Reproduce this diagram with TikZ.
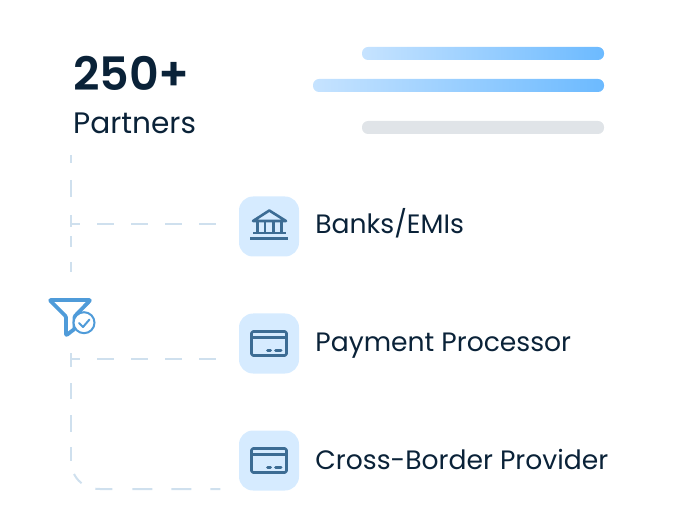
\documentclass[tikz,border=0pt]{standalone}
\usepackage{fontspec}
\setmainfont{Poppins}
\newfontfamily\headfont{Poppins SemiBold}
\usepackage{xcolor}
\usetikzlibrary{positioning,backgrounds,calc}
\definecolor{inkc}{HTML}{0A2238}
\definecolor{cardc}{HTML}{D6EBFF}
\definecolor{iconc}{HTML}{3C6C94}
\definecolor{funnelc}{HTML}{4F9BD9}
\definecolor{linkc}{HTML}{CFE0EE}
\definecolor{barl}{HTML}{C6E3FF}
\definecolor{barr}{HTML}{6CBAFF}
\definecolor{barg}{HTML}{E0E4E8}
\tikzset{
  card/.style ={rectangle, rounded corners=14pt, fill=cardc, minimum size=60pt, inner sep=0pt},
  lbl/.style  ={anchor=base west, inner sep=0pt, text=inkc, font=\fontsize{26.6}{30}\selectfont},
  link/.style ={line width=2pt, draw=linkc, dash pattern=on 17pt off 17pt},
  ico/.style  ={line width=2.6pt, draw=iconc, line join=round},
  bar/.style  ={rounded corners=6pt, left color=barl, right color=barr, draw=none},
}
\newcommand{\payicon}[1]{%
  \draw[ico, rounded corners=1.5pt] ($(#1)+(-17.5,-12)$) rectangle ($(#1)+(17.5,12)$);
  \draw[ico] ($(#1)+(-17.5,-6)$) -- ($(#1)+(17.5,-6)$);
  \draw[ico, line width=3pt, line cap=round] ($(#1)+(-1.5,6.5)$) -- ($(#1)+(1.5,6.5)$);
  \draw[ico, line width=3pt, line cap=round] ($(#1)+(6.5,6.5)$) -- ($(#1)+(12,6.5)$);
}
\begin{document}
\begin{tikzpicture}[x=1pt,y=-1pt]
\useasboundingbox (0,0) rectangle (674,526);

\node[anchor=base west, inner sep=0pt, text=inkc, font=\fontsize{46}{50}\headfont] (total) at (73,91) {250+};
\node[anchor=base west, inner sep=0pt, text=inkc, font=\fontsize{29.6}{32}\selectfont] (partners) at (73,134) {Partners};

\path[bar] (362,47) rectangle (604,60);
\path[bar] (313,79) rectangle (604,92);
\fill[barg, rounded corners=6pt] (362,121) rectangle (604,134);

\node[card] (bank) at (269,226.5) {};
\node[card] (proc) at (269,343.5) {};
\node[card] (cross) at (269,460.5) {};
\node[lbl] (banklbl) at ($(bank.east)+(16,7.5)$) {Banks/EMIs};
\node[lbl] (proclbl) at ($(proc.east)+(16,7.5)$) {Payment Processor};
\node[lbl] (crosslbl) at ($(cross.east)+(16,9)$) {Cross-Border Provider};

% funnel
\draw[line width=3.8pt, draw=funnelc, line join=round, fill=white, rounded corners=1pt]
  (49.5,300) -- (90.5,300) -- (74.5,316.5) -- (74.5,329) -- (66,335.5) -- (66,316.5) -- cycle;
\node[circle, draw=funnelc, fill=white, line width=2pt, minimum size=21pt, inner sep=0pt] (okmark) at (84,322.7) {};
\draw[draw=funnelc, line width=2pt, line cap=round, line join=round] (79,323) -- (83,327) -- (89.5,319.5);

\coordinate (top) at (71,155);
\coordinate (joina) at (71,224);
\coordinate (joinb) at (71,359);
\coordinate (tickb) at (71,353);
\coordinate (elbow) at (71,462);
\coordinate (funneltop) at (71,296);
\coordinate (enda) at (216,224);
\coordinate (endb) at (216,359);
\coordinate (arcfrom) at (74,474);
\coordinate (arcto) at (100,489);

\begin{scope}[on background layer]
\draw[link, dash pattern=on 8pt off 17pt on 17pt off 18pt on 9pt] (top) -- (joina);
\draw[link, dash pattern=on 3pt off 9pt on 11pt off 15pt on 10pt off 40pt] (joina) -- (funneltop);
\draw[link, dash pattern=on 14pt off 16pt on 16pt off 16pt on 17pt off 15pt on 14pt] (tickb) -- (elbow);
\draw[link, dash phase=8pt] (joina) -- (enda);
\draw[link, dash phase=8pt] (joinb) -- (endb);
\draw[link, dash pattern=on 12pt off 15pt on 17pt off 20pt on 20pt off 19pt on 20pt off 19pt on 10pt off 40pt]
  (arcfrom) .. controls (79,484) and (89,489) .. (arcto) -- (cross.west |- arcto);
\end{scope}

% bank icon
\draw[ico] (253,221) -- (269.3,210.5) -- (286,221) -- cycle;
\foreach \px in {257.5,265,273.5,281.5}
  \draw[ico] (\px,221) -- (\px,233);
\draw[ico] (253,233) -- (286,233);
\draw[ico] (250,238.3) -- (288,238.3);

\payicon{proc}
\payicon{cross}
\end{tikzpicture}
\end{document}
